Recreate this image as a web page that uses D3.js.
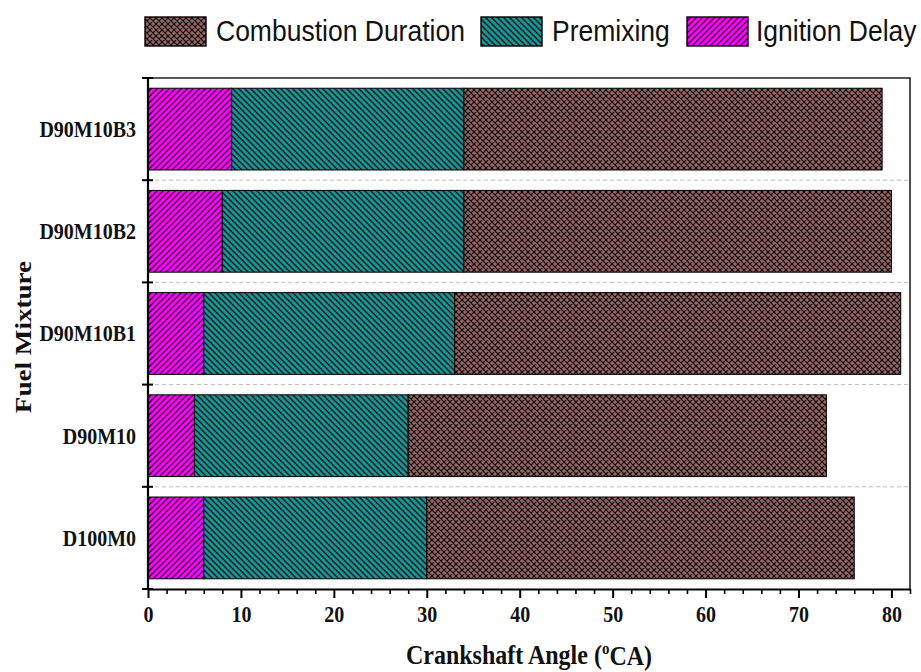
<!DOCTYPE html>
<html>
<head>
<meta charset="utf-8">
<script src="https://cdn.jsdelivr.net/npm/d3@7/dist/d3.min.js"></script>
<style>
  body { margin: 0; background: #fff; }
  svg { display: block; }
</style>
</head>
<body>
<svg id="chart" width="921" height="672"></svg>
<script>
// Fuel mixtures, bottom to top
const fuels = ["D100M0", "D90M10", "D90M10B1", "D90M10B2", "D90M10B3"];
// Phase lengths in crank angle degrees
const ignitionDelay = [6, 5, 6, 8, 9];
const premixing = [24, 23, 27, 26, 25];
const combustionDuration = [46, 45, 48, 46, 45];
const xTicks = [0, 10, 20, 30, 40, 50, 60, 70, 80];
const seriesNames = ["Ignition Delay", "Premixing", "Combustion Duration"];
const legendOrder = ["Combustion Duration", "Premixing", "Ignition Delay"];

const W = 921, H = 672;
const margin = { top: 78, right: 11, bottom: 83, left: 148 };
const svg = d3.select("#chart");
const serif = "'Liberation Serif', 'Times New Roman', serif";
const stretch = 1.13;

// Hatch fills
const defs = svg.append("defs");
function hatch(id, bg, size, d, sw) {
  const p = defs.append("pattern").attr("id", id)
    .attr("patternUnits", "userSpaceOnUse").attr("width", size).attr("height", size);
  p.append("rect").attr("width", size).attr("height", size).attr("fill", bg);
  p.append("path").attr("d", d).attr("stroke", "#000").attr("stroke-width", sw).attr("fill", "none");
}
const s = 6;
hatch("p-ign", "#ff00ff", s, `M0,${s} L${s},0 M-1,1 L1,-1 M${s-1},${s+1} L${s+1},${s-1}`, 1.2);
hatch("p-pre", "#179393", s, `M0,0 L${s},${s} M-1,${s-1} L1,${s+1} M${s-1},-1 L${s+1},1`, 1.2);
const c = 6;
hatch("p-com", "#9c6464", c,
  `M0,0 L${c},${c} M-1,${c-1} L1,${c+1} M${c-1},-1 L${c+1},1 M0,${c} L${c},0 M-1,1 L1,-1 M${c-1},${c+1} L${c+1},${c-1}`, 1.1);
const fills = { "Ignition Delay": "url(#p-ign)", "Premixing": "url(#p-pre)", "Combustion Duration": "url(#p-com)" };

const x = d3.scaleLinear().domain([0, 82]).range([margin.left, W - margin.right]);
const y = d3.scaleBand().domain(fuels.slice().reverse())
  .range([margin.top, H - margin.bottom]).paddingInner(0.2).paddingOuter(0.1);

// Stacked data
const rows = fuels.map((f, i) => ({
  fuel: f,
  "Ignition Delay": ignitionDelay[i],
  "Premixing": premixing[i],
  "Combustion Duration": combustionDuration[i]
}));
const stacked = d3.stack().keys(seriesNames)(rows);

// Dashed separators between categories
const step = y.step();
const bounds = fuels.slice().reverse().map(f => y(f) - step * y.paddingInner() / 2).slice(1);
svg.append("g").selectAll("line").data(bounds).join("line")
  .attr("x1", margin.left).attr("x2", W - margin.right)
  .attr("y1", d => d).attr("y2", d => d)
  .attr("stroke", "#bdbdbd").attr("stroke-width", 1).attr("stroke-dasharray", "4,3");

// Bars
svg.append("g").selectAll("g").data(stacked).join("g")
  .attr("fill", d => fills[d.key])
  .selectAll("rect").data(d => d).join("rect")
  .attr("x", d => x(d[0]))
  .attr("width", d => x(d[1]) - x(d[0]))
  .attr("y", d => y(d.data.fuel))
  .attr("height", y.bandwidth())
  .attr("stroke", "#000").attr("stroke-width", 1);

// Frame (top & right)
svg.append("path")
  .attr("d", `M${margin.left},${margin.top} H${W - margin.right} V${H - margin.bottom}`)
  .attr("fill", "none").attr("stroke", "#222").attr("stroke-width", 1.6);

// X axis: minor ticks then major ticks
const xAxisY = H - margin.bottom;
svg.append("g").attr("transform", `translate(0,${xAxisY})`)
  .call(d3.axisBottom(x).tickValues(d3.range(0, 83, 2).filter(v => v % 10 !== 0))
    .tickSize(5).tickSizeOuter(0).tickFormat(""))
  .call(g => g.select(".domain").remove())
  .call(g => g.selectAll("line").attr("stroke", "#000").attr("stroke-width", 1.6));

const xAxis = svg.append("g").attr("transform", `translate(0,${xAxisY})`)
  .call(d3.axisBottom(x).tickValues(xTicks).tickSize(9).tickSizeOuter(0).tickPadding(8));
xAxis.select(".domain").attr("stroke", "#000").attr("stroke-width", 2.2);
xAxis.selectAll("line").attr("stroke", "#000").attr("stroke-width", 2);
xAxis.selectAll("text")
  .attr("font-family", serif).attr("font-weight", "bold").attr("font-size", 20).attr("fill", "#111")
  .each(function () {
    const t = d3.select(this), ty = +t.attr("y");
    t.attr("transform", `translate(0,${ty}) scale(1,${stretch}) translate(0,${-ty})`);
  });

// Y axis line and boundary ticks
svg.append("line").attr("x1", margin.left).attr("x2", margin.left)
  .attr("y1", margin.top).attr("y2", H - margin.bottom)
  .attr("stroke", "#000").attr("stroke-width", 2.2);
const yTickPos = [margin.top, ...bounds, H - margin.bottom];
svg.append("g").selectAll("line").data(yTickPos).join("line")
  .attr("x1", margin.left - 6).attr("x2", margin.left + 5)
  .attr("y1", d => d).attr("y2", d => d)
  .attr("stroke", "#000").attr("stroke-width", 2);

// Category labels
svg.append("g").selectAll("text").data(fuels).join("text")
  .attr("x", 136)
  .attr("y", d => y(d) + y.bandwidth() / 2)
  .attr("dy", "0.35em")
  .attr("text-anchor", "end")
  .attr("font-family", serif).attr("font-weight", "bold").attr("font-size", 20).attr("fill", "#111")
  .attr("transform", d => {
    const cy = y(d) + y.bandwidth() / 2;
    return `translate(0,${cy}) scale(1,${stretch}) translate(0,${-cy})`;
  })
  .text(d => d);

// Axis titles
const xt = svg.append("text")
  .attr("x", 529).attr("y", 664)
  .attr("text-anchor", "middle")
  .attr("font-family", serif).attr("font-weight", "bold").attr("font-size", 24).attr("fill", "#111")
  .attr("transform", `translate(0,664) scale(1,${stretch}) translate(0,-664)`);
xt.append("tspan").text("Crankshaft Angle (");
xt.append("tspan").attr("font-size", 15).attr("dy", "-0.6em").text("o");
xt.append("tspan").attr("dy", "0.4em").text("CA)");

svg.append("text")
  .attr("transform", `translate(31,337) rotate(-90) scale(${stretch},1)`)
  .attr("text-anchor", "middle")
  .attr("font-family", serif).attr("font-weight", "bold").attr("font-size", 24).attr("fill", "#111")
  .text("Fuel Mixture");

// Legend
const legendItems = [
  { key: legendOrder[0], bx: 145, tx: 216 },
  { key: legendOrder[1], bx: 481, tx: 552 },
  { key: legendOrder[2], bx: 687, tx: 756 }
];
const lg = svg.append("g").selectAll("g").data(legendItems).join("g");
lg.append("rect")
  .attr("x", d => d.bx).attr("y", 17).attr("width", 61).attr("height", 29)
  .attr("fill", d => fills[d.key]).attr("stroke", "#000").attr("stroke-width", 1.4);
lg.append("text")
  .attr("x", d => d.tx).attr("y", 41)
  .attr("font-family", "'Liberation Sans', Arial, sans-serif").attr("font-size", 26.5).attr("fill", "#111")
  .attr("transform", `translate(0,41) scale(1,1.08) translate(0,-41)`)
  .text(d => d.key);
</script>
</body>
</html>
